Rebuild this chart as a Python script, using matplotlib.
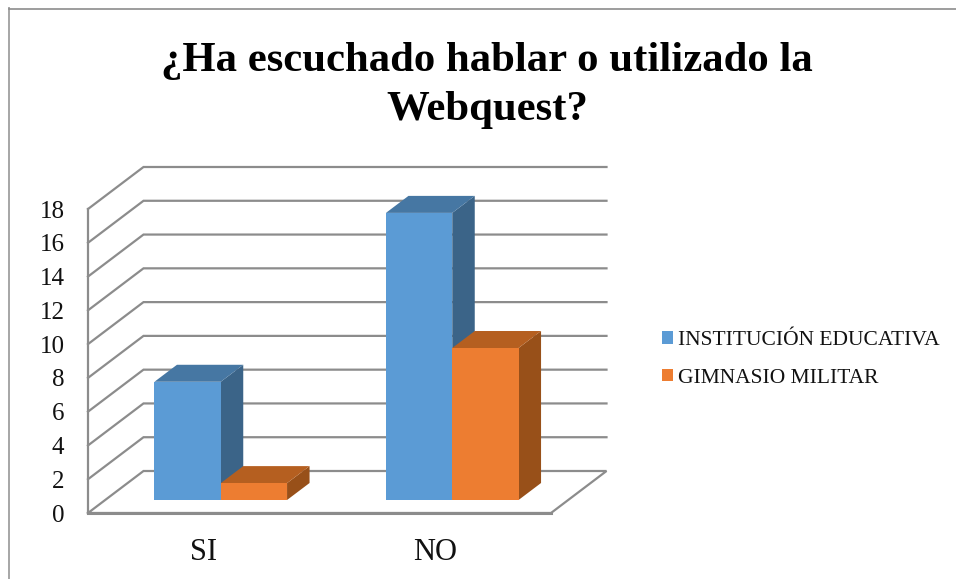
import matplotlib
matplotlib.use("Agg")
import matplotlib.pyplot as plt
from matplotlib.patches import Polygon, Patch
from matplotlib.lines import Line2D

plt.rcParams['font.family'] = ['Liberation Serif', 'DejaVu Serif']

TITLE = "¿Ha escuchado hablar o utilizado la\nWebquest?"
categories = ["SI", "NO"]
series_names = ["INSTITUCIÓN EDUCATIVA", "GIMNASIO MILITAR"]
institucion = [7, 17]
gimnasio = [1, 9]
y_ticks = list(range(0, 20, 2))

W, H = 956, 579
fig = plt.figure(figsize=(W / 100, H / 100), dpi=100)
fig.patch.set_facecolor("white")

# plot-front rectangle in pixels
L, R, T, B = 88, 551, 209, 513
ax = fig.add_axes([L / W, 1 - B / H, (R - L) / W, (B - T) / H])
ax.set_xlim(-0.5, 1.5)
ax.set_ylim(0, 18)
px_x = 2 / (R - L)
px_y = 18 / (B - T)

# depth projection (pixels -> data units)
WALL_DX, WALL_DY = 55.5 * px_x, 42 * px_y
BAR_DX, BAR_DY = 22.5 * px_x, 17 * px_y
BASE_DX, BASE_DY = 17 * px_x, 13 * px_y
BAR_W = 66.3 * px_x

GRID = "#8c8c8c"
lw = 1.6
for v in y_ticks:
    if v > 0:
        ax.add_line(Line2D([-0.5, -0.5 + WALL_DX, 1.5 + WALL_DX],
                           [v, v + WALL_DY, v + WALL_DY], color=GRID, lw=lw,
                           clip_on=False, zorder=1, solid_joinstyle="miter"))
    else:
        ax.add_line(Line2D([-0.5, -0.5 + WALL_DX, 1.5 + WALL_DX, 1.5, -0.5],
                           [0, WALL_DY, WALL_DY, 0, 0], color=GRID, lw=lw,
                           clip_on=False, zorder=1, solid_joinstyle="miter"))
ax.add_line(Line2D([-0.5, -0.5], [0, 18], color=GRID, lw=lw, clip_on=False, zorder=1))
ax.add_line(Line2D([-0.5, 1.5], [0, 0], color=GRID, lw=2.2, clip_on=False, zorder=1))


def bar3d(xc, value, front, top, side, z):
    x0 = xc + BASE_DX
    ax.bar(x0, value, BAR_W, bottom=BASE_DY, align="edge", color=front,
           lw=0, zorder=z + 0.2, clip_on=False)
    x1 = x0 + BAR_W
    y0, y1 = BASE_DY, BASE_DY + value
    ax.add_patch(Polygon([(x1, y0), (x1 + BAR_DX, y0 + BAR_DY), (x1 + BAR_DX, y1 + BAR_DY), (x1, y1)],
                         closed=True, fc=side, lw=0, zorder=z, clip_on=False))
    ax.add_patch(Polygon([(x0, y1), (x1, y1), (x1 + BAR_DX, y1 + BAR_DY), (x0 + BAR_DX, y1 + BAR_DY)],
                         closed=True, fc=top, lw=0, zorder=z, clip_on=False))


BLUE = ("#5b9bd5", "#4677a3", "#3b6488")
ORANGE = ("#ed7d31", "#b55f20", "#985019")
for i in range(len(categories)):
    bar3d(i - BAR_W, institucion[i], *BLUE, z=2)
    bar3d(i, gimnasio[i], *ORANGE, z=3)

for s in ax.spines.values():
    s.set_visible(False)
ax.patch.set_alpha(0)
ax.set_yticks(y_ticks)
ax.set_xticks(range(len(categories)))
ax.set_xticklabels(categories)
ax.tick_params(axis="y", length=0, pad=17, labelsize=18, colors="#111111")
ax.tick_params(axis="x", length=0, pad=18, labelsize=22, colors="#111111")

fig.text(487 / W, 1 - 85.5 / H, TITLE, ha="center", va="center", fontsize=30.8,
         fontweight="bold", color="#000000", linespacing=1.36)

handles = [Patch(fc=BLUE[0], lw=0), Patch(fc=ORANGE[0], lw=0)]
fig.legend(handles, series_names, loc="center left",
           bbox_to_anchor=(662 / W, 1 - 359.5 / H), frameon=False, fontsize=15.5,
           handlelength=0.53, handleheight=0.53, handletextpad=0.2,
           labelspacing=0.85, labelcolor="#111111", borderpad=0, borderaxespad=0)

# chart frame
BORDER = "#a6a6a6"
fig.add_artist(Line2D([9 / W, 9 / W], [0, 1 - 8 / H], color=BORDER, lw=1.4))
fig.add_artist(Line2D([9 / W, 1], [1 - 8.5 / H, 1 - 8.5 / H], color="#8c8c8c", lw=1.2))

fig.savefig("out.png", dpi=100)
